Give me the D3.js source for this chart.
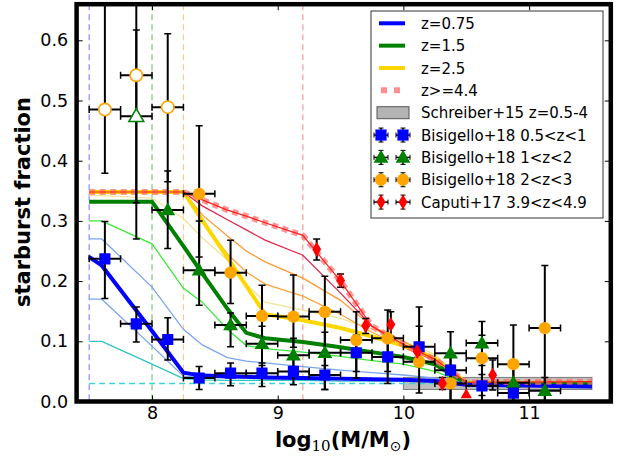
<!DOCTYPE html>
<html><head><meta charset="utf-8">
<script src="https://cdn.jsdelivr.net/npm/d3@7"></script>
<style>body{margin:0;background:#fff;} svg{display:block;font-family:"DejaVu Sans",sans-serif;}</style>
</head><body><svg id="c" width="623" height="458"></svg>
<script>
// ---------- data ----------
const massGrid   = [7.5, 7.6, 8.0, 8.25, 8.4, 8.6, 8.75, 8.9, 9.2, 9.5, 9.75, 10.0, 10.25, 10.5, 11.5];
const modelZ075  = [0.240,0.226,0.117,0.048,0.043,0.042,0.041,0.040,0.039,0.038,0.037,0.036,0.034,0.028,0.025];
const modelZ15   = [0.332,0.332,0.332,0.258,0.213,0.154,0.114,0.105,0.099,0.090,0.082,0.074,0.062,0.030,0.029];
const modelZ25   = [0.348,0.348,0.348,0.348,0.301,0.239,0.192,0.145,0.135,0.122,0.108,0.093,0.072,0.031,0.031];
const modelZ44   = [0.348,0.348,0.348,0.348,0.335,0.318,0.308,0.297,0.276,0.200,0.125,0.095,0.070,0.032,0.033];
const thinCyan   = [0.100,0.100,0.062,0.038,0.036,0.035,0.035,0.035,0.035,0.034,0.034,0.034,0.033,0.029,0.027];
const thinBlueA  = [0.170,0.170,0.092,0.042,0.040,0.039,0.039,0.038,0.038,0.037,0.036,0.035,0.034,0.029,0.026];
const thinBlueB  = [0.270,0.270,0.190,0.120,0.094,0.073,0.067,0.064,0.058,0.052,0.048,0.044,0.039,0.030,0.027];
const thinLime   = [0.300,0.300,0.262,0.188,0.165,0.120,0.093,0.088,0.082,0.075,0.068,0.062,0.050,0.030,0.029];
const thinKhaki  = [0.342,0.342,0.338,0.304,0.272,0.235,0.195,0.165,0.152,0.138,0.120,0.100,0.078,0.031,0.030];
const thinOrangeA= [0.348,0.348,0.348,0.348,0.310,0.275,0.250,0.232,0.205,0.168,0.125,0.100,0.072,0.031,0.031];
const thinOrangeB= [0.348,0.348,0.348,0.348,0.300,0.245,0.215,0.195,0.175,0.145,0.115,0.090,0.068,0.031,0.031];
const thinCrimson= [0.348,0.348,0.348,0.348,0.325,0.302,0.285,0.268,0.243,0.180,0.125,0.092,0.068,0.031,0.032];

const completeLimits = [7.5, 8.0, 8.25, 9.2];   // vertical dashed lines
const schreiberX = [10.0, 11.5];
const schreiberY = [0.02, 0.04];
const floorLevel = 0.03;

const blueX  = [7.625,7.875,8.125,8.375,8.625,8.875,9.125,9.375,9.625,9.875,10.125,10.375,10.625,10.875];
const blueY  = [0.237,0.129,0.103,0.039,0.047,0.047,0.050,0.044,0.081,0.074,0.091,0.052,0.026,0.014];
const blueLo = [0.171,0.099,0.069,0.020,0.026,0.025,0.028,0.020,0.050,0.050,0.060,0.030,0.010,0.000];
const blueHi = [0.299,0.157,0.139,0.058,0.064,0.064,0.070,0.060,0.110,0.100,0.125,0.075,0.045,0.030];

const greenX  = [7.875,8.125,8.375,8.625,8.875,9.125,9.375,10.375,10.625,10.875,11.125];
const greenY  = [0.474,0.318,0.218,0.127,0.096,0.077,0.081,0.080,0.097,0.031,0.018];
const greenLo = [0.270,0.254,0.160,0.091,0.060,0.045,0.050,0.000,0.060,0.010,0.000];
const greenHi = [0.750,0.383,0.300,0.147,0.125,0.105,0.115,0.116,0.133,0.060,0.040];
const greenOpen = [true,false,false,false,false,false,false,false,false,false,false];

const orangeX  = [7.625,7.875,8.125,8.375,8.625,8.875,9.125,9.375,9.625,9.875,10.125,10.375,10.625,10.875,11.125];
const orangeY  = [0.485,0.542,0.489,0.345,0.214,0.142,0.141,0.149,0.102,0.105,0.066,0.030,0.072,0.062,0.122];
const orangeLo = [0.379,0.330,0.365,0.240,0.163,0.090,0.090,0.020,0.039,0.030,0.014,0.000,0.000,0.000,0.000];
const orangeHi = [0.750,0.617,0.611,0.458,0.268,0.193,0.210,0.208,0.149,0.152,0.157,0.060,0.110,0.127,0.226];
const orangeOpen = [true,true,true,false,false,false,false,false,false,false,false,false,false,false,false];

const caputiX  = [9.31,9.50,9.70,9.90,10.11,10.31,10.71];
const caputiY  = [0.253,0.201,0.126,0.128,0.083,0.030,0.044];
const caputiLo = [0.235,0.190,0.113,0.108,0.073,0.020,0.019];
const caputiHi = [0.270,0.212,0.138,0.149,0.093,0.040,0.069];
const caputiLimX = [10.50];
const caputiLimY = [0.011];

const xTicks = [8, 9, 10, 11];
const yTicks = [0.0, 0.1, 0.2, 0.3, 0.4, 0.5, 0.6];
const legendLabels = ["z=0.75","z=1.5","z=2.5","z>=4.4","Schreiber+15 z=0.5-4",
  "Bisigello+18 0.5<z<1","Bisigello+18 1<z<2","Bisigello+18 2<z<3","Caputi+17 3.9<z<4.9"];

// ---------- scales ----------
const svg = d3.select("#c");
const x = d3.scaleLinear().domain([7.4, 11.65]).range([76.6, 610.8]);
const y = d3.scaleLinear().domain([0, 0.66]).range([401.5, 4.2]);
const X0 = x(7.4), X1 = x(11.65), Y0 = y(0), Y1 = y(0.66);

svg.append("defs").append("clipPath").attr("id","clip")
  .append("rect").attr("x",X0).attr("y",Y1).attr("width",X1-X0).attr("height",Y0-Y1);
const plot = svg.append("g").attr("clip-path","url(#clip)");

// Schreiber band
plot.append("rect").attr("x",x(schreiberX[0])).attr("y",y(schreiberY[1]))
  .attr("width",x(schreiberX[1])-x(schreiberX[0])).attr("height",y(schreiberY[0])-y(schreiberY[1]))
  .attr("fill","#b4b4b4").attr("stroke","#666").attr("stroke-width",1).attr("opacity",0.85);

// vertical dashed lines
const vColors = ["#8a8aff","#7cc47c","#ffc98a","#ff9a9a"];
completeLimits.forEach((v,i)=>{
  plot.append("line").attr("x1",x(v)).attr("x2",x(v)).attr("y1",Y1).attr("y2",Y0)
    .attr("stroke",vColors[i]).attr("stroke-width",1.2).attr("stroke-dasharray","6,4");
});

const line = d3.line().x(d=>x(d[0])).y(d=>y(d[1]));
const pts = arr => massGrid.map((m,i)=>[m,arr[i]]);

// thin model lines
[[thinCyan,"#2fc4c4"],[thinBlueA,"#7aa6f0"],[thinBlueB,"#7aa6f0"],[thinLime,"#3be83b"],
 [thinKhaki,"#f3e39a"],[thinOrangeB,"#ffa33a"],[thinOrangeA,"#ff9a30"],[thinCrimson,"#e0284e"]]
 .forEach(([arr,c])=>{
  plot.append("path").attr("d",line(pts(arr))).attr("fill","none").attr("stroke",c).attr("stroke-width",1.3);
 });

// floor dashed
plot.append("line").attr("x1",x(7.5)).attr("x2",x(11.5)).attr("y1",y(floorLevel)).attr("y2",y(floorLevel))
  .attr("stroke","#3cd2d2").attr("stroke-width",1.5).attr("stroke-dasharray","6,4");

// thick model lines
plot.append("path").attr("d",line(pts(modelZ25))).attr("fill","none").attr("stroke","#ffd700").attr("stroke-width",4);
plot.append("path").attr("d",line(pts(modelZ15))).attr("fill","none").attr("stroke","#008000").attr("stroke-width",4);
plot.append("path").attr("d",line(pts(modelZ075))).attr("fill","none").attr("stroke","#0000ff").attr("stroke-width",4);
plot.append("path").attr("d",line(pts(modelZ44))).attr("fill","none").attr("stroke","#ff6a6a").attr("stroke-opacity",0.7)
  .attr("stroke-width",6).attr("stroke-dasharray","6,4.5");
plot.append("path").attr("d",line(pts(modelZ44))).attr("fill","none").attr("stroke","#ff2020").attr("stroke-width",1.2);

// ---------- error bars + markers ----------
const XERR = 0.125, CAP = 3.5;
function errbars(g, xs, ys, lo, hi, xerr){
  xs.forEach((xv,i)=>{
    const px = x(xv);
    g.append("line").attr("x1",px).attr("x2",px).attr("y1",y(lo[i])).attr("y2",y(hi[i]))
      .attr("stroke","#000").attr("stroke-width",2);
    [lo[i],hi[i]].forEach(v=>g.append("line").attr("x1",px-CAP).attr("x2",px+CAP).attr("y1",y(v)).attr("y2",y(v))
      .attr("stroke","#000").attr("stroke-width",1.5));
    if (xerr>0){
      const py = y(ys[i]);
      g.append("line").attr("x1",x(xv-xerr)).attr("x2",x(xv+xerr)).attr("y1",py).attr("y2",py)
        .attr("stroke","#000").attr("stroke-width",2);
      [xv-xerr,xv+xerr].forEach(v=>g.append("line").attr("x1",x(v)).attr("x2",x(v)).attr("y1",py-CAP).attr("y2",py+CAP)
        .attr("stroke","#000").attr("stroke-width",1.5));
    }
  });
}
const diamondPath = "M0,-7.5L4.5,0L0,7.5L-4.5,0Z";
const shapes = {
  square: d3.symbol().type(d3.symbolSquare).size(125)(),
  triangle: d3.symbol().type(d3.symbolTriangle).size(95)(),
  smallTriangle: d3.symbol().type(d3.symbolTriangle).size(55)(),
  circle: d3.symbol().type(d3.symbolCircle).size(120)(),
  diamond: diamondPath
};
function markers(g, xs, ys, shape, color, open, dy){
  xs.forEach((xv,i)=>{
    const o = open && open[i];
    g.append("path").attr("d",shapes[shape]).attr("transform",`translate(${x(xv)},${y(ys[i])+(dy||0)})`)
      .attr("fill",o?"#fff":color).attr("stroke",o?color:"none").attr("stroke-width",1.6);
  });
}
const eb = plot.append("g");
errbars(eb, orangeX, orangeY, orangeLo, orangeHi, XERR);
errbars(eb, greenX, greenY, greenLo, greenHi, XERR);
errbars(eb, blueX, blueY, blueLo, blueHi, XERR);
errbars(eb, caputiX, caputiY, caputiLo, caputiHi, 0);
const mk = plot.append("g");
markers(mk, orangeX, orangeY, "circle", "#ffa500", orangeOpen);
markers(mk, greenX, greenY, "triangle", "#008000", greenOpen, 1);
markers(mk, blueX, blueY, "square", "#0000ff", null);
markers(mk, caputiX, caputiY, "diamond", "#ff0000", null);
markers(mk, caputiLimX, caputiLimY, "smallTriangle", "#ff0000", null, 0);

// ---------- axes ----------
const axB = svg.append("g").attr("transform",`translate(0,${Y0})`)
  .call(d3.axisBottom(x).tickValues(xTicks).tickFormat(d3.format("d")).tickSizeInner(-6).tickSizeOuter(0).tickPadding(5.5));
const axT = svg.append("g").attr("transform",`translate(0,${Y1})`)
  .call(d3.axisTop(x).tickValues(xTicks).tickFormat("").tickSizeInner(-6).tickSizeOuter(0));
const axL = svg.append("g").attr("transform",`translate(${X0},0)`)
  .call(d3.axisLeft(y).tickValues(yTicks).tickFormat(d3.format(".1f")).tickSizeInner(-6).tickSizeOuter(0).tickPadding(8.5));
const axR = svg.append("g").attr("transform",`translate(${X1},0)`)
  .call(d3.axisRight(y).tickValues(yTicks).tickFormat("").tickSizeInner(-6).tickSizeOuter(0));
[axB,axT,axL,axR].forEach(a=>{
  a.select(".domain").remove();
  a.selectAll(".tick line").attr("stroke","#000").attr("stroke-width",1);
  a.selectAll("text").attr("font-family","DejaVu Sans").attr("font-size",17.5).attr("fill","#000");
});
// frame
svg.append("rect").attr("x",X0).attr("y",Y1).attr("width",X1-X0).attr("height",Y0-Y1)
  .attr("fill","none").attr("stroke","#000").attr("stroke-width",4.5);

// axis labels
svg.append("text").attr("transform","translate(30,202) rotate(-90)").attr("text-anchor","middle")
  .attr("font-size",21).attr("font-weight","bold").text("starburst fraction");
const xl = svg.append("text").attr("x",343).attr("y",447).attr("text-anchor","middle").attr("font-size",21);
xl.append("tspan").attr("font-weight","bold").text("log");
xl.append("tspan").attr("font-family","DejaVu Serif").attr("font-size",15).attr("dy",4).text("10");
xl.append("tspan").attr("font-weight","bold").attr("dy",-4).text("(M/M");
xl.append("tspan").attr("font-size",14).attr("dy",4).text("\u2299");
xl.append("tspan").attr("font-weight","bold").attr("dy",-4).text(")");

// ---------- legend ----------
const lg = svg.append("g");
lg.append("rect").attr("x",371).attr("y",11).attr("width",232).attr("height",207)
  .attr("fill","#fff").attr("stroke","#333").attr("stroke-width",1);
const rowY = i => 23.3 + i*22.35;
const hx0 = 379, hx1 = 405;
lg.append("line").attr("x1",hx0).attr("x2",hx1).attr("y1",rowY(0)).attr("y2",rowY(0)).attr("stroke","#0000ff").attr("stroke-width",4);
lg.append("line").attr("x1",hx0).attr("x2",hx1).attr("y1",rowY(1)).attr("y2",rowY(1)).attr("stroke","#008000").attr("stroke-width",4);
lg.append("line").attr("x1",hx0).attr("x2",hx1).attr("y1",rowY(2)).attr("y2",rowY(2)).attr("stroke","#ffd700").attr("stroke-width",4);
lg.append("line").attr("x1",hx0+2).attr("x2",hx1).attr("y1",rowY(3)).attr("y2",rowY(3)).attr("stroke","#ff6a6a").attr("stroke-opacity",0.75)
  .attr("stroke-width",6).attr("stroke-dasharray","6,7");
lg.append("rect").attr("x",377).attr("y",rowY(4)-6).attr("width",32).attr("height",12)
  .attr("fill","#b4b4b4").attr("stroke","#555").attr("stroke-width",1);
const legMk = [["square","#0000ff"],["triangle","#008000"],["circle","#ffa500"],["diamond","#ff0000"]];
legMk.forEach(([s,c],k)=>{
  const yy = rowY(5+k);
  [381,403].forEach(cx=>{
    lg.append("line").attr("x1",cx-7).attr("x2",cx+7).attr("y1",yy).attr("y2",yy).attr("stroke","#000").attr("stroke-width",1.5);
    lg.append("line").attr("x1",cx).attr("x2",cx).attr("y1",yy-7).attr("y2",yy+7).attr("stroke","#000").attr("stroke-width",1.5);
    [-7,7].forEach(d=>{
      lg.append("line").attr("x1",cx-2.5).attr("x2",cx+2.5).attr("y1",yy+d).attr("y2",yy+d).attr("stroke","#000").attr("stroke-width",1);
      lg.append("line").attr("x1",cx+d).attr("x2",cx+d).attr("y1",yy-2.5).attr("y2",yy+2.5).attr("stroke","#000").attr("stroke-width",1);
    });
    lg.append("path").attr("d",shapes[s]).attr("transform",`translate(${cx},${yy+(s==="triangle"?1:0)})`).attr("fill",c);
  });
});
legendLabels.forEach((t,i)=>{
  lg.append("text").attr("x",421).attr("y",rowY(i)+5.5).attr("font-size",15).attr("fill","#000").text(t);
});
</script></body></html>
